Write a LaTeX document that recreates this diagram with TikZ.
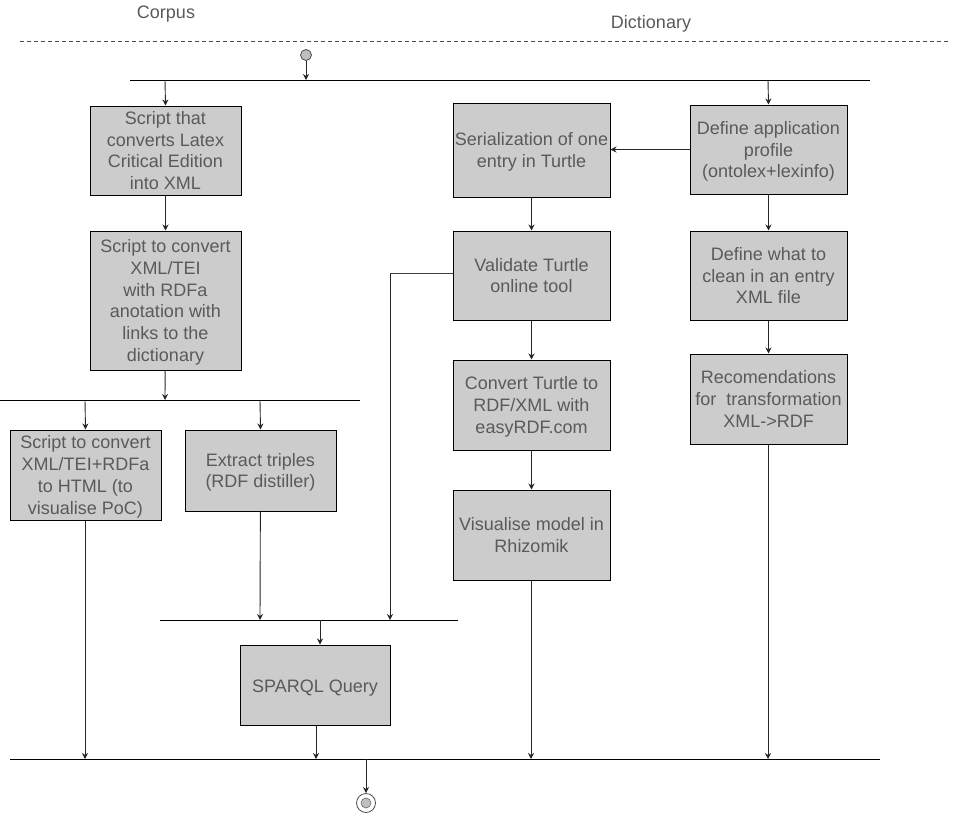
\documentclass[tikz,border=0pt]{standalone}
\usepackage{fontspec}
\setmainfont{Liberation Sans}
\usetikzlibrary{arrows.meta}
\definecolor{boxfill}{HTML}{CCCCCC}
\definecolor{txtgray}{HTML}{5A5A5A}
% uniform line box so that descenders do not shift the text block
\newcommand\linestrut{\rule[-4pt]{0pt}{23pt}}
\begin{document}
\begin{tikzpicture}[x=1pt,y=-1pt,
  every node/.style={font=\fontsize{18}{21.7}\selectfont, text=txtgray},
  stepbox/.style={draw=black, line width=1pt, fill=boxfill, align=center, inner sep=0pt,
    execute at begin node=\linestrut, text depth=0pt},
  flow/.style={draw=black!85, line width=0.9pt, -{Stealth[length=6pt,width=6pt]}},
  plainline/.style={draw=black!75, line width=0.9pt},
  bar/.style={draw=black, line width=0.8pt},
  lane/.style={font=\fontsize{18}{20}\selectfont, text=txtgray,
    execute at begin node=\linestrut, execute at end node=\linestrut}]
\useasboundingbox (0,0) rectangle (953,814);

% lane titles and separator
\node[lane] (corpus) at (166,11) {Corpus};
\node[lane] (dict) at (651,21) {Dictionary};
\coordinate (sepL) at (20,41);
\coordinate (sepR) at (948,41);
\draw[black!70, line width=0.8pt, dash pattern=on 4pt off 3pt] (sepL) -- (sepR);

% start node
\node[circle, draw=black!70, fill=black!25, minimum size=11pt, inner sep=0pt, line width=0.8pt] (start) at (306,55) {};

% fork / join bars
\coordinate (forkTL) at (130,80);  \coordinate (forkTR) at (870,80);
\coordinate (forkML) at (0,400);   \coordinate (forkMR) at (360,400);
\coordinate (joinQL) at (160,620); \coordinate (joinQR) at (458,620);
\coordinate (joinEL) at (10,759);  \coordinate (joinER) at (880,759);
\draw[bar] (forkTL) -- (forkTR);
\draw[bar] (forkML) -- (forkMR);
\draw[bar] (joinQL) -- (joinQR);
\draw[bar] (joinEL) -- (joinER);

% corpus column
\node[stepbox, minimum width=151pt, minimum height=89pt] (latex) at (165.5,150.5)
  {Script that\\converts Latex\\Critical Edition\\into XML};
\node[stepbox, minimum width=151pt, minimum height=139pt] (rdfa) at (165.5,300.5)
  {Script to convert\\XML/TEI\\with RDFa\\anotation with\\links to the\\dictionary};
\node[stepbox, minimum width=151pt, minimum height=90pt] (html) at (85.5,475)
  {Script to convert\\XML/TEI+RDFa\\to HTML (to\\visualise PoC)};
\node[stepbox, minimum width=151pt, minimum height=81pt] (extract) at (260.5,470.5)
  {Extract triples\\(RDF distiller)};
\node[stepbox, minimum width=150pt, minimum height=80pt, text depth=5pt] (sparql) at (315,685)
  {SPARQL Query};

% dictionary column
\node[stepbox, minimum width=157pt, minimum height=94pt] (serial) at (531.5,150)
  {Serialization of one\\entry in Turtle};
\node[stepbox, minimum width=157pt, minimum height=89pt] (profile) at (768.5,149.5)
  {Define application\\profile\\(ontolex+lexinfo)};
\node[stepbox, minimum width=157pt, minimum height=89pt] (validate) at (531.5,275.5)
  {Validate Turtle\\online tool};
\node[stepbox, minimum width=157pt, minimum height=90pt] (convert) at (531.5,405)
  {Convert Turtle to\\RDF/XML with\\easyRDF.com};
\node[stepbox, minimum width=157pt, minimum height=90pt] (visual) at (531.5,535)
  {Visualise model in\\Rhizomik};
\node[stepbox, minimum width=157pt, minimum height=89pt] (clean) at (768.5,275.5)
  {Define what to\\clean in an entry\\XML file};
\node[stepbox, minimum width=157pt, minimum height=90pt] (recom) at (768.5,399)
  {Recomendations\\for\ \ transformation\\XML->RDF};

% end node
\node[circle, draw=black!70, fill=white, minimum size=19pt, inner sep=0pt, line width=0.8pt] (finish) at (366,803) {};
\node[circle, draw=black!60, fill=black!25, minimum size=10pt, inner sep=0pt, line width=0.6pt] (finishIn) at (finish) {};

% bar attachment points
\coordinate (t1) at (165,80);  \coordinate (t2) at (768,80);  \coordinate (t0) at (306,80);
\coordinate (m0) at (165,400); \coordinate (m1) at (85,400);  \coordinate (m2) at (260,400);
\coordinate (q1) at (260,620); \coordinate (q2) at (390,620); \coordinate (q0) at (320,620);
\coordinate (v1) at (390,273);
\coordinate (e1) at (85,759);  \coordinate (e2) at (316,759); \coordinate (e3) at (531,759);
\coordinate (e4) at (768,759); \coordinate (e0) at (366,759);

% connectors
\draw[flow] (start) -- (t0);
\draw[flow] (t1) -- (latex.north);
\draw[flow] (t2) -- (profile.north);
\draw[flow] (latex) -- (rdfa);
\draw[flow] (rdfa) -- (m0);
\draw[flow] (m1) -- (html.north);
\draw[flow] (m2) -- (extract.north);
\draw[flow] (extract) -- (q1);
\draw[plainline] (validate.west |- v1) -- (v1);
\draw[flow] (v1) -- (q2);
\draw[flow] (q0) -- (sparql.north -| q0);
\draw[flow] (html.south -| e1) -- (e1);
\draw[flow] (sparql.south -| e2) -- (e2);
\draw[flow] (visual.south -| e3) -- (e3);
\draw[flow] (recom.south -| e4) -- (e4);
\draw[flow] (e0) -- (finish);
\draw[flow] (profile.west) -- (serial.east |- profile.west);
\draw[flow] (serial) -- (validate);
\draw[flow] (validate) -- (convert);
\draw[flow] (convert) -- (visual);
\draw[flow] (profile) -- (clean);
\draw[flow] (clean) -- (recom);
\end{tikzpicture}
\end{document}
